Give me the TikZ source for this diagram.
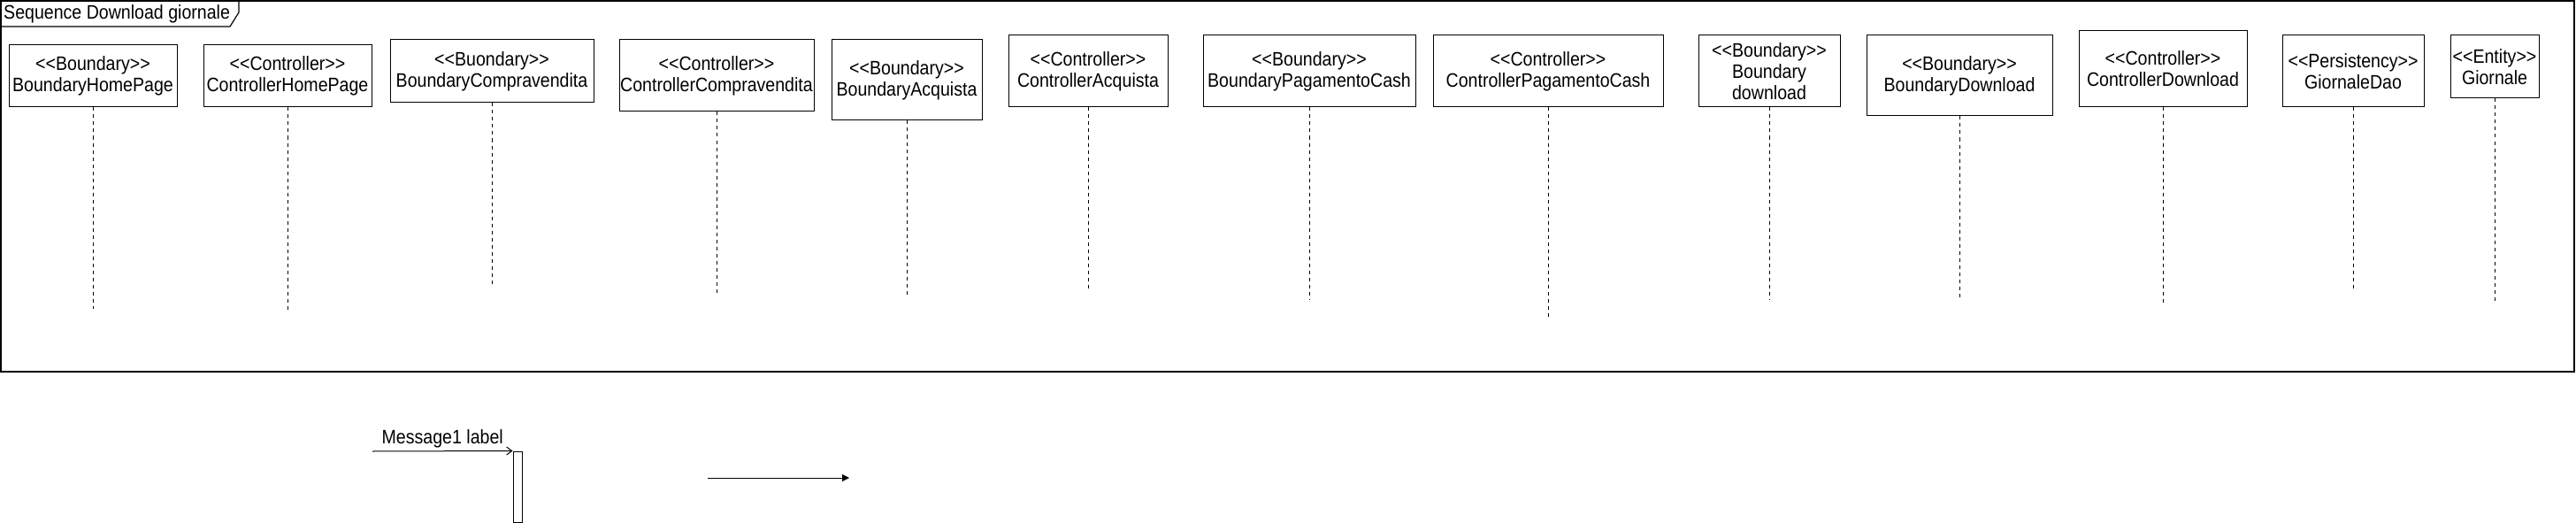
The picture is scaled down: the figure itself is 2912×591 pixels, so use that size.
\documentclass[tikz,border=0pt]{standalone}
\usepackage{fontspec}
\setmainfont{Liberation Sans}[FakeStretch=0.89]
\usetikzlibrary{arrows.meta,positioning}
\newcommand{\stereo}[1]{<\kern0pt<#1>\kern0pt>}
\tikzset{
  lbl/.style={font=\fontsize{22}{24}\selectfont},
  part/.style 2 args={draw=black,line width=1pt,fill=white,align=center,inner sep=1pt,
    minimum width=#1,minimum height=#2,lbl},
  frame/.style={draw=black,line width=1.2pt},
  lifeline/.style={draw=black,line width=1pt,dash pattern=on 4pt off 4pt},
  act/.style={draw=black,line width=1pt,fill=white,minimum width=10pt,minimum height=80pt,inner sep=0pt},
  msg/.style={draw=black,line width=1pt,-{Straight Barb[length=6pt,width=9pt]}},
  call/.style={draw=black,line width=1pt,-{Triangle[length=8pt,width=8pt]}},
}
\begin{document}
\begin{tikzpicture}[x=1pt,y=-1pt]
  \useasboundingbox (0,0) rectangle (2912,591);
  % frame
  \draw[frame] (1,1) rectangle (2910,420);
  \node[lbl,anchor=west,inner sep=0pt] (title) at (4,16) {Sequence Download giornale};
  \draw[frame] (1,30) -- (260,30) -- (270,14) -- (270,1);
  % participants
  \node[part={190pt}{70pt}] (bhp) at (105,86) {\stereo{Boundary}\\BoundaryHomePage};
  \node[part={190pt}{70pt}] (chp) at (325,86) {\stereo{Controller}\\ControllerHomePage};
  \node[part={230pt}{71pt}] (bcv) at (556,80.5) {\stereo{Buondary}\\BoundaryCompravendita};
  \node[part={220pt}{81pt}] (ccv) at (810,85.5) {\stereo{Controller}\\ControllerCompravendita};
  \node[part={170pt}{91pt}] (bac) at (1025,90.5) {\stereo{Boundary}\\BoundaryAcquista};
  \node[part={180pt}{81pt}] (cac) at (1230,80.5) {\stereo{Controller}\\ControllerAcquista};
  \node[part={240pt}{81pt}] (bpc) at (1480,80.5) {\stereo{Boundary}\\BoundaryPagamentoCash};
  \node[part={260pt}{81pt}] (cpc) at (1750,80.5) {\stereo{Controller}\\ControllerPagamentoCash};
  \node[part={160pt}{81pt}] (bdl) at (2000,80.5) {\stereo{Boundary}\\Boundary\\download};
  \node[part={210pt}{91pt}] (bdw) at (2215,85.5) {\stereo{Boundary}\\BoundaryDownload};
  \node[part={190pt}{86pt}] (cdw) at (2445,78) {\stereo{Controller}\\ControllerDownload};
  \node[part={160pt}{81pt}] (gdao) at (2660,80.5) {\stereo{Persistency}\\GiornaleDao};
  \node[part={100pt}{71pt}] (gio) at (2820,75.5) {\stereo{Entity}\\Giornale};
  % lifelines
  \foreach \p/\e in {bhp/349,chp/350,bcv/321,ccv/333,bac/334,cac/328,bpc/338,
                     cpc/358,bdl/338,bdw/336,cdw/345,gdao/328,gio/341} {
    \coordinate (\p-end) at (\p |- 0,\e);
    \draw[lifeline] (\p) -- (\p-end);
  }
  % messages
  \node[act] (act1) at (585,550) {};
  \coordinate (m1-start) at (421,510);
  \draw[msg] (m1-start) -- node[lbl,above,inner sep=3pt] (m1-label) {Message1 label} (act1.north west);
  \coordinate (m2-start) at (800,540);
  \coordinate (m2-end) at (960,540);
  \draw[call] (m2-start) -- (m2-end);
\end{tikzpicture}
\end{document}
